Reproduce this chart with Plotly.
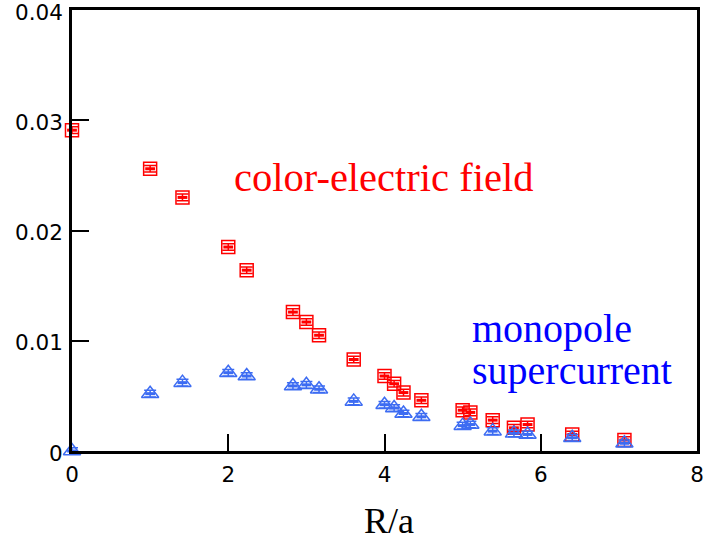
import numpy as np
import plotly.graph_objects as go

# Distances R/a (lattice separations sqrt(n))
r_vals = [0.0, 1.0, 1.414, 2.0, 2.236, 2.828, 3.0, 3.162, 3.606, 4.0, 4.123,
          4.243, 4.472, 5.0, 5.099, 5.385, 5.657, 5.831, 6.403, 7.071]

# Color-electric field profile
e_field = [0.0291, 0.0256, 0.0230, 0.0185, 0.0164, 0.0126, 0.0117, 0.0105,
           0.0083, 0.0068, 0.0061, 0.0053, 0.0046, 0.0037, 0.0035, 0.0028,
           0.0021, 0.0024, 0.0015, 0.0010]
e_err = [0.0003] * len(r_vals)

# Monopole supercurrent profile
k_curr = [0.0, 0.0052, 0.0062, 0.0071, 0.0068, 0.0059, 0.0060, 0.0056,
          0.0045, 0.0042, 0.0039, 0.0034, 0.0031, 0.0023, 0.0024, 0.0018,
          0.0016, 0.0015, 0.0012, 0.0007]
k_err = [0.0003] * len(r_vals)

x_ticks = [0, 2, 4, 6, 8]
y_ticks = [0, 0.01, 0.02, 0.03, 0.04]
y_tick_text = ["0", "0.01", "0.02", "0.03", "0.04"]

RED = "#ff0000"
BLUE = "#3d6cf2"

W, H = 706, 543
L, R, T, B = 72, 9, 10, 92

TICK_FONT = dict(family="DejaVu Sans, Verdana, sans-serif", size=21.5, color="black")


def px_to_paper(px, py):
    pw = W - L - R
    ph = H - T - B
    return (px - L) / pw, (H - B - py) / ph


fig = go.Figure()

# red squares with error bars
fig.add_trace(go.Scatter(
    x=r_vals, y=e_field, mode="markers",
    marker=dict(symbol="square-open", size=13, color=RED, line=dict(width=1.5, color=RED)),
    error_y=dict(type="data", array=e_err, color=RED, thickness=1.5, width=6),
    showlegend=False, cliponaxis=False,
))
fig.add_trace(go.Scatter(
    x=r_vals, y=e_field, mode="markers",
    marker=dict(symbol="line-ew", size=7, color=RED, line=dict(width=3, color=RED)),
    showlegend=False, cliponaxis=False,
))

# blue triangles with error bars
fig.add_trace(go.Scatter(
    x=r_vals, y=k_curr, mode="markers",
    marker=dict(symbol="triangle-up-open", size=15, color=BLUE, line=dict(width=1.5, color=BLUE)),
    error_y=dict(type="data", array=k_err, color=BLUE, thickness=1.5, width=6),
    showlegend=False, cliponaxis=False,
))
fig.add_trace(go.Scatter(
    x=r_vals, y=k_curr, mode="markers",
    marker=dict(symbol="line-ew", size=7, color=BLUE, line=dict(width=3, color=BLUE)),
    showlegend=False, cliponaxis=False,
))

axis_common = dict(
    showline=True, linecolor="black", linewidth=2.5, mirror=True,
    ticks="inside", ticklen=17, tickwidth=2, tickcolor="black",
    showgrid=False, zeroline=False, automargin=False,
    tickfont=TICK_FONT,
)

fig.update_xaxes(range=[0, 8], tickvals=x_ticks, ticktext=[str(v) for v in x_ticks],
                 ticklabelstandoff=2, **axis_common)
# y tick labels are placed as annotations below so the top one stays inside the page
fig.update_yaxes(range=[0, 0.04], tickvals=y_ticks, showticklabels=False, **axis_common)

serif = "Liberation Serif, Times New Roman, serif"
ax, ay = px_to_paper(232, 177)
bx, by = px_to_paper(470, 328)
cx, cy = px_to_paper(470, 370)
dx, dy = px_to_paper(389, 521)

annotations = [
    dict(text=t, x=0, y=v, xref="paper", yref="y", xanchor="right", yanchor="middle",
         xshift=-8, yshift=-2, showarrow=False, font=TICK_FONT, borderpad=0)
    for v, t in zip(y_ticks, y_tick_text)
]
annotations += [
    dict(text="color-electric field", x=ax, y=ay, xref="paper", yref="paper",
         xanchor="left", yanchor="middle", showarrow=False,
         font=dict(family=serif, size=40.5, color=RED)),
    dict(text="monopole", x=bx, y=by, xref="paper", yref="paper",
         xanchor="left", yanchor="middle", showarrow=False,
         font=dict(family=serif, size=40, color="#0000ff")),
    dict(text="supercurrent", x=cx, y=cy, xref="paper", yref="paper",
         xanchor="left", yanchor="middle", showarrow=False,
         font=dict(family=serif, size=40, color="#0000ff")),
    dict(text="R/a", x=dx, y=dy, xref="paper", yref="paper",
         xanchor="center", yanchor="middle", showarrow=False,
         font=dict(family=serif, size=36, color="black")),
]

fig.update_layout(
    width=W, height=H,
    margin=dict(l=L, r=R, t=T, b=B, autoexpand=False),
    paper_bgcolor="white", plot_bgcolor="white",
    annotations=annotations,
)

fig.write_html("out.html")
